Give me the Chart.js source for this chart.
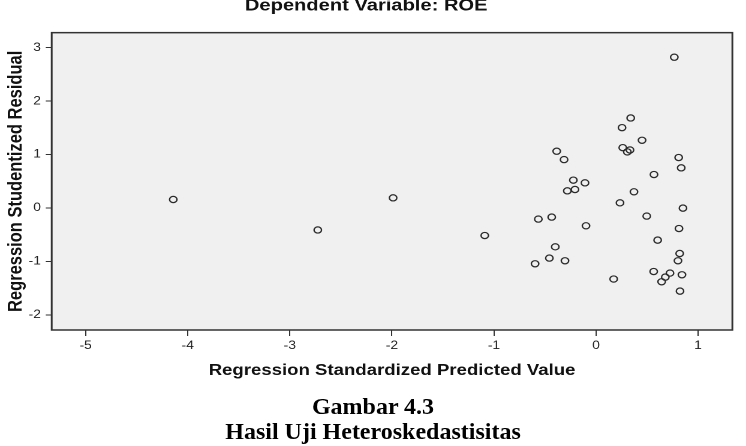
<!DOCTYPE html>
<html>
<head>
<meta charset="utf-8">
<script src="https://cdn.jsdelivr.net/npm/chart.js@4/dist/chart.umd.min.js"></script>
<style>
  html, body { margin: 0; padding: 0; background: #fff; overflow: hidden; width: 746px; height: 446px; }
  #wrap { position: absolute; left: 0; top: 0; width: 622px; height: 446px; transform: scaleX(1.1994); transform-origin: 0 0; }
  .cap { position: absolute; left: 0; width: 746px; text-align: center; font-family: "Liberation Serif", "Times New Roman", serif; font-weight: bold; font-size: 24px; line-height: 25px; color: #000; }
</style>
</head>
<body>
<div id="wrap"><canvas id="c"></canvas></div>
<div class="cap" style="top:394px">Gambar 4.3</div>
<div class="cap" style="top:419px">Hasil Uji Heteroskedastisitas</div>
<script>
// Data
const predictedValues = [
  -4.142, -2.726, -1.988, -1.090,
  0.767, 0.340, 0.255, 0.451, 0.262, 0.333, 0.307, -0.385, -0.313, 0.810,
  0.835, 0.568, -0.222, -0.108, -0.281, -0.206, 0.372, 0.235, 0.852, 0.497,
  -0.565, -0.434, -0.098, 0.813, 0.604, -0.399, 0.820, -0.457, -0.304, -0.597,
  0.803, 0.565, 0.725, 0.679, 0.842, 0.643, 0.173, 0.823
];
const studentizedResiduals = [
  0.159, -0.411, 0.190, -0.515,
  2.821, 1.684, 1.503, 1.267, 1.129, 1.086, 1.049, 1.062, 0.906, 0.944,
  0.751, 0.626, 0.521, 0.471, 0.321, 0.346, 0.303, 0.097, -0.002, -0.151,
  -0.207, -0.170, -0.333, -0.384, -0.601, -0.726, -0.851, -0.937, -0.987, -1.043,
  -0.987, -1.188, -1.217, -1.292, -1.249, -1.380, -1.329, -1.555
];
const chartTitle = "Dependent Variable: ROE";
const xAxisTitle = "Regression Standardized Predicted Value";
const yAxisTitle = "Regression Studentized Residual";
const xRange = [-5.333, 1.336];
const yRange = [-2.282, 3.280];

const points = predictedValues.map((x, i) => ({ x: x, y: studentizedResiduals[i] }));

const framePlugin = {
  id: 'frame',
  beforeDraw(chart) {
    const { ctx, chartArea: a } = chart;
    ctx.save();
    ctx.fillStyle = '#f0f0f0';
    ctx.fillRect(a.left, a.top, a.right - a.left, a.bottom - a.top);
    ctx.restore();
  },
  afterDraw(chart) {
    const { ctx, chartArea: a } = chart;
    ctx.save();
    ctx.strokeStyle = '#333';
    ctx.lineWidth = 1.5;
    ctx.strokeRect(a.left, a.top, a.right - a.left, a.bottom - a.top);
    ctx.restore();
  }
};

const sans = "'Liberation Sans', Arial, sans-serif";

new Chart(document.getElementById('c'), {
  type: 'scatter',
  data: {
    datasets: [{
      data: points,
      pointStyle: 'circle',
      pointRadius: 3.1,
      pointBorderWidth: 1.2,
      borderColor: '#2a2a2a',
      backgroundColor: 'rgba(0,0,0,0)',
      pointHoverRadius: 3.1
    }]
  },
  options: {
    responsive: true,
    maintainAspectRatio: false,
    animation: false,
    devicePixelRatio: 2,
    layout: { padding: { top: 0, right: 11.4, bottom: 0, left: 0 } },
    plugins: {
      legend: { display: false },
      tooltip: { enabled: false },
      title: {
        display: true,
        text: chartTitle,
        color: '#111',
        font: { family: sans, size: 16.8, weight: 'bold', lineHeight: 0.7 },
        padding: { top: 0, bottom: 20.9 }
      }
    },
    scales: {
      x: {
        type: 'linear',
        position: 'bottom',
        min: xRange[0],
        max: xRange[1],
        afterFit: s => { s.height = 116; },
        ticks: { stepSize: 1, includeBounds: false, color: '#222', font: { family: sans, size: 11.5 }, padding: 3, maxRotation: 0 },
        grid: { drawOnChartArea: false, drawTicks: true, tickLength: 6, color: '#333', lineWidth: 1 },
        border: { display: false },
        title: { display: true, text: xAxisTitle, color: '#111', font: { family: sans, size: 15.5, weight: 'bold' }, padding: { top: 0, bottom: 66.2 } }
      },
      y: {
        type: 'linear',
        position: 'left',
        min: yRange[0],
        max: yRange[1],
        afterFit: s => { s.width = 43.1; },
        ticks: { stepSize: 1, includeBounds: false, color: '#222', font: { family: sans, size: 11.5 }, padding: 4 },
        grid: { drawOnChartArea: false, drawTicks: true, tickLength: 5, color: '#333', lineWidth: 1 },
        border: { display: false },
        title: { display: true, text: yAxisTitle, color: '#111', font: { family: sans, size: 16.5, weight: 'bold' }, padding: { top: 3.4, bottom: 0 } }
      }
    }
  },
  plugins: [framePlugin]
});
</script>
</body>
</html>
